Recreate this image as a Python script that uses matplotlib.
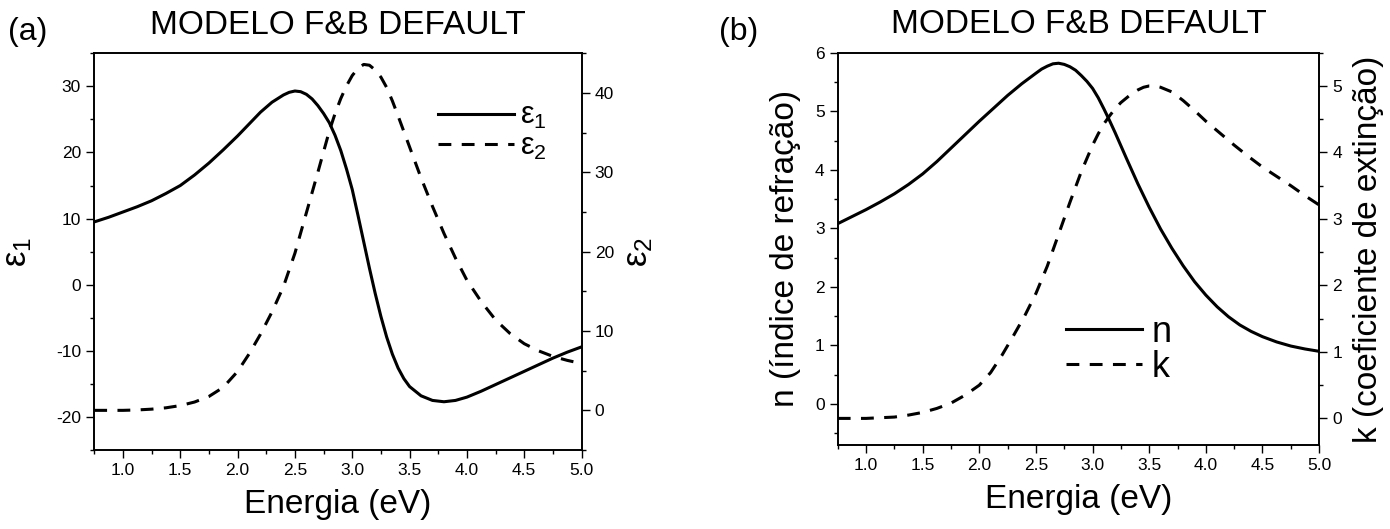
#!/usr/bin/env python3
"""
modelo F&B default: epsilon1/epsilon2 e n/k em funcao da energia
"""
import matplotlib
matplotlib.use('Agg')
import matplotlib.pyplot as plt
from matplotlib.ticker import MultipleLocator

plt.rcParams['font.family'] = ['Liberation Sans', 'DejaVu Sans']
plt.rcParams['mathtext.default'] = 'regular'
plt.rcParams['axes.unicode_minus'] = False

# dados (energia em eV)
E_eps1 = [0.75, 0.875, 1.0, 1.125, 1.25, 1.375, 1.5, 1.625, 1.75, 1.875, 2.0, 2.1, 2.2, 2.3,
          2.4, 2.45, 2.5, 2.55, 2.6, 2.65, 2.7, 2.75, 2.8, 2.85, 2.9, 2.95, 3.0, 3.05, 3.1,
          3.15, 3.2, 3.25, 3.3, 3.35, 3.4, 3.45, 3.5, 3.6, 3.7, 3.8, 3.9, 4.0, 4.125, 4.25,
          4.375, 4.5, 4.625, 4.75, 4.875, 5.0]
eps1 = [9.5, 10.2, 11.0, 11.8, 12.7, 13.8, 15.0, 16.6, 18.4, 20.4, 22.5, 24.3, 26.1, 27.6,
        28.7, 29.1, 29.3, 29.2, 28.8, 28.1, 27.1, 25.9, 24.5, 22.6, 20.3, 17.5, 14.4, 10.5, 6.5,
        2.5, -1.3, -4.8, -7.9, -10.5, -12.6, -14.2, -15.4, -16.8, -17.5, -17.7, -17.5, -17.0, -16.1, -15.1,
        -14.1, -13.1, -12.1, -11.1, -10.2, -9.4]

E_eps2 = [0.75, 0.875, 1.0, 1.125, 1.25, 1.375, 1.5, 1.625, 1.75, 1.875, 2.0, 2.1, 2.2, 2.3,
          2.4, 2.5, 2.6, 2.7, 2.8, 2.85, 2.9, 2.95, 3.0, 3.05, 3.1, 3.15, 3.2, 3.25, 3.3,
          3.35, 3.4, 3.5, 3.6, 3.7, 3.8, 3.9, 4.0, 4.125, 4.25, 4.375, 4.5, 4.625, 4.75,
          4.875, 5.0]
eps2 = [0.0, 0.0, 0.0, 0.05, 0.15, 0.32, 0.6, 1.05, 1.75, 2.9, 4.9, 7.1, 9.6, 12.4,
        15.6, 19.8, 24.9, 30.0, 35.2, 37.4, 39.3, 40.9, 42.2, 43.1, 43.6, 43.5, 42.9, 42.0, 40.7,
        39.0, 37.1, 33.2, 29.3, 25.7, 22.3, 19.2, 16.4, 13.7, 11.4, 9.7, 8.4, 7.5, 6.8,
        6.3, 5.9]

E_n = [0.75, 0.875, 1.0, 1.125, 1.25, 1.375, 1.5, 1.625, 1.75, 1.875, 2.0, 2.125, 2.25, 2.375,
       2.5, 2.55, 2.6, 2.65, 2.7, 2.75, 2.8, 2.85, 2.9, 2.95, 3.0, 3.05, 3.1, 3.15, 3.2,
       3.3, 3.4, 3.5, 3.6, 3.7, 3.8, 3.9, 4.0, 4.1, 4.2, 4.3, 4.4, 4.5, 4.625, 4.75,
       4.875, 5.0]
n_val = [3.08, 3.20, 3.32, 3.45, 3.59, 3.75, 3.93, 4.14, 4.37, 4.60, 4.83, 5.05, 5.27, 5.47,
         5.65, 5.72, 5.77, 5.81, 5.82, 5.80, 5.76, 5.70, 5.61, 5.51, 5.39, 5.23, 5.04, 4.84, 4.63,
         4.19, 3.76, 3.36, 2.99, 2.66, 2.36, 2.09, 1.86, 1.66, 1.49, 1.35, 1.24, 1.15, 1.06, 0.99,
         0.94, 0.90]

E_k = [0.75, 0.875, 1.0, 1.125, 1.25, 1.375, 1.5, 1.625, 1.75, 1.875, 2.0, 2.1, 2.2, 2.3,
       2.4, 2.5, 2.6, 2.7, 2.8, 2.9, 3.0, 3.05, 3.1, 3.15, 3.2, 3.25, 3.3, 3.35, 3.4,
       3.45, 3.5, 3.55, 3.6, 3.7, 3.8, 3.9, 4.0, 4.125, 4.25, 4.375, 4.5, 4.625, 4.75,
       4.875, 5.0]
k_val = [0.0, 0.0, 0.0, 0.01, 0.02, 0.05, 0.09, 0.15, 0.23, 0.35, 0.50, 0.69, 0.95, 1.24,
         1.54, 1.88, 2.29, 2.77, 3.25, 3.71, 4.11, 4.28, 4.43, 4.55, 4.66, 4.75, 4.82, 4.89, 4.94,
         4.98, 5.00, 5.00, 4.98, 4.91, 4.78, 4.63, 4.47, 4.29, 4.11, 3.94, 3.78, 3.64, 3.50,
         3.35, 3.21]

title = 'MODELO F&B DEFAULT'
xlabel = 'Energia (eV)'

LW = 2.2
DASH = (0, (4.2, 3.4))


def style(ax, side):
    ax.tick_params(which='both', direction='out', width=1.0, labelsize=12.5)
    ax.tick_params(which='major', length=6)
    ax.tick_params(which='minor', length=3)
    for s in ax.spines.values():
        s.set_linewidth(1.2)
    if side == 'left':
        ax.tick_params(which='both', right=False, top=False)
    else:
        ax.tick_params(which='both', left=False, top=False, bottom=False)


fig = plt.figure(figsize=(13.9, 5.29), dpi=100)

# ---------- (a) ----------
ax1 = fig.add_axes([0.0678, 0.1493, 0.3506, 0.7499])
ax2 = ax1.twinx()
l1, = ax1.plot(E_eps1, eps1, color='black', lw=LW, label='$ε_1$', solid_joinstyle='round')
l2, = ax2.plot(E_eps2, eps2, color='black', lw=LW, ls=DASH, label='$ε_2$')
ax1.set_xlim(0.75, 5.0)
ax1.set_ylim(-25, 35)
ax2.set_ylim(-5, 45)
ax1.xaxis.set_major_locator(MultipleLocator(0.5))
ax1.xaxis.set_minor_locator(MultipleLocator(0.25))
ax1.yaxis.set_major_locator(MultipleLocator(10))
ax1.yaxis.set_minor_locator(MultipleLocator(5))
ax2.yaxis.set_major_locator(MultipleLocator(10))
ax2.yaxis.set_minor_locator(MultipleLocator(5))
style(ax1, 'left')
style(ax2, 'right')
ax1.set_xlabel(xlabel, fontsize=24, labelpad=8)
ax1.set_ylabel('$ε_1$', fontsize=25, labelpad=16)
ax2.set_ylabel('$ε_2$', fontsize=25, labelpad=6)
ax1.set_title(title, fontsize=24, pad=14)
ax1.legend(handles=[l1, l2], loc='center left', bbox_to_anchor=(0.705, 0.803),
           frameon=False, fontsize=22, handlelength=2.5, handletextpad=0.2,
           labelspacing=0.0, borderpad=0, borderaxespad=0)
fig.text(0.006, 0.94, '(a)', fontsize=23, va='center', ha='left')

# ---------- (b) ----------
ax3 = fig.add_axes([0.6027, 0.1588, 0.3463, 0.7416])
ax4 = ax3.twinx()
l3, = ax3.plot(E_n, n_val, color='black', lw=LW, label='n', solid_joinstyle='round')
l4, = ax4.plot(E_k, k_val, color='black', lw=LW, ls=DASH, label='k')
ax3.set_xlim(0.75, 5.0)
ax3.set_ylim(-0.7, 6)
ax4.set_ylim(-0.4, 5.5)
ax3.xaxis.set_major_locator(MultipleLocator(0.5))
ax3.xaxis.set_minor_locator(MultipleLocator(0.25))
ax3.yaxis.set_major_locator(MultipleLocator(1))
ax3.yaxis.set_minor_locator(MultipleLocator(0.5))
ax4.yaxis.set_major_locator(MultipleLocator(1))
ax4.yaxis.set_minor_locator(MultipleLocator(0.5))
style(ax3, 'left')
style(ax4, 'right')
ax3.set_xlabel(xlabel, fontsize=24, labelpad=8)
ax3.set_ylabel('n (índice de refração)', fontsize=24, labelpad=10)
ax4.set_ylabel('k (coeficiente de extinção)', fontsize=24, labelpad=8)
ax3.set_title(title, fontsize=24, pad=14)
ax3.legend(handles=[l3, l4], loc='center left', bbox_to_anchor=(0.475, 0.243),
           frameon=False, fontsize=26, handlelength=2.1, handletextpad=0.25,
           labelspacing=0.0, borderpad=0, borderaxespad=0)
fig.text(0.517, 0.94, '(b)', fontsize=23, va='center', ha='left')

fig.savefig('out.png', dpi=100)
